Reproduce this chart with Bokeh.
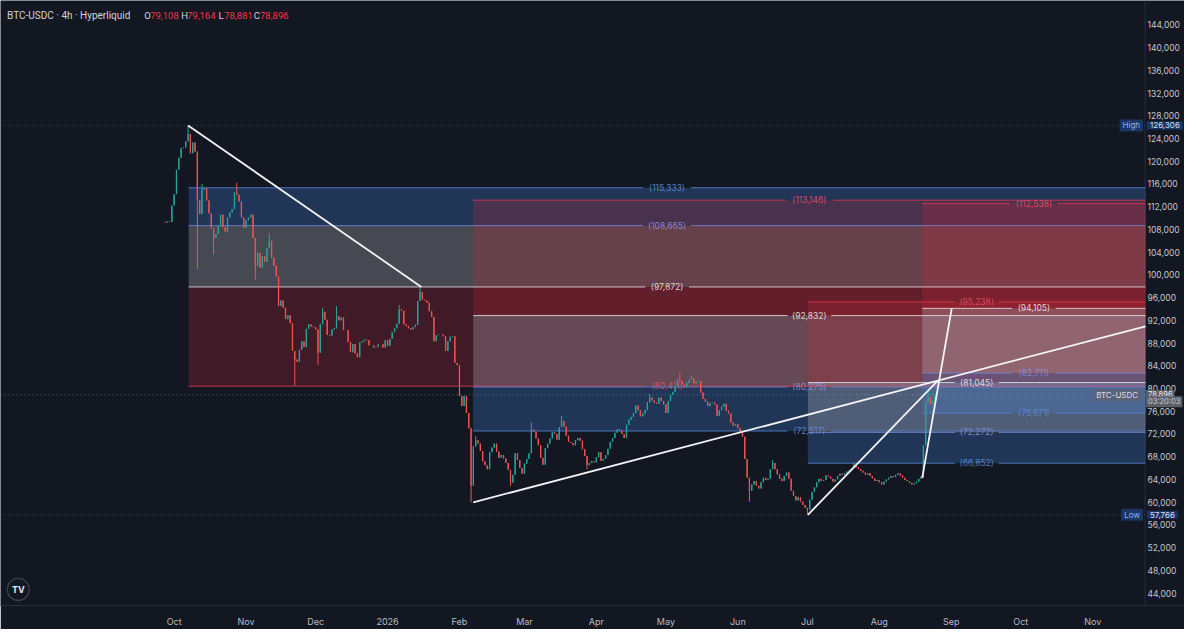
import pandas as pd
from bokeh.plotting import figure
from bokeh.models import (Range1d, FixedTicker, NumeralTickFormatter,
                          CustomJSTickFormatter, Label, Span)
from bokeh.embed import file_html
from bokeh.resources import INLINE
from bokeh.core.properties import value

# ============================ DATA ============================
title_text = "BTC-USDC · 4h · Hyperliquid"
ohlc_keys = ["O", "H", "L", "C"]
ohlc_vals = ["79,108", "79,164", "78,881", "78,896"]

# daily closes in thousands of USD
first_open_k = 109.3
closes_sep25 = [109.2, 109.4, 109.3, 112.2]
closes_oct25 = [114.2, 118.5, 120.6, 122.3, 122.4, 123.5, 124.8, 121.4, 123.3, 121.7,
                113.2, 110.7, 115.0, 115.3, 113.1, 110.8, 108.2, 106.5, 107.2, 108.6,
                110.6, 108.4, 107.6, 110.1, 111.0, 111.6, 114.5, 114.1, 112.9, 110.1, 108.3]
closes_nov25 = [109.6, 110.1, 110.6, 106.5, 101.6, 103.9, 101.3, 103.3, 102.3, 104.7,
                106.0, 103.0, 101.6, 99.7, 94.5, 95.5, 94.2, 92.2, 92.9, 91.5,
                86.6, 85.1, 84.7, 86.8, 88.3, 87.3, 90.5, 91.3, 90.9, 90.8]
closes_dec25 = [90.4, 86.3, 91.3, 93.5, 92.1, 89.4, 89.3, 90.4, 90.6, 92.7,
                92.0, 92.5, 90.3, 90.3, 88.2, 86.4, 87.8, 86.2, 85.5, 88.1,
                88.3, 88.6, 88.5, 87.6, 87.6, 87.2, 87.3, 87.8, 87.8, 87.2, 88.5]
closes_jan26 = [87.5, 88.7, 89.9, 90.6, 91.4, 93.9, 93.7, 91.3, 91.0, 90.6,
                90.4, 90.8, 91.2, 95.4, 97.0, 95.6, 95.5, 95.1, 93.6, 92.6,
                88.3, 89.4, 89.5, 89.5, 89.2, 86.6, 88.3, 89.1, 89.2, 84.5, 84.1]
closes_feb26 = [78.7, 76.9, 78.7, 75.7, 73.0, 62.9, 69.8, 70.9, 70.3, 69.0,
                67.2, 66.5, 65.8, 68.8, 69.6, 70.3, 68.9, 67.8, 68.3, 67.7,
                66.9, 65.7, 63.4, 64.8, 68.6, 67.4, 66.0, 65.0]
closes_mar26 = [66.8, 67.6, 68.6, 72.8, 72.4, 71.2, 70.0, 67.8, 66.6, 69.5,
                70.3, 71.2, 72.3, 72.0, 71.0, 73.2, 74.3, 73.3, 71.7, 70.6,
                70.4, 70.0, 70.9, 71.3, 70.8, 69.3, 68.1, 66.5, 66.9, 67.2, 67.0]
closes_apr26 = [67.9, 68.8, 67.3, 67.6, 68.3, 69.4, 70.6, 71.3, 72.2, 72.8,
                72.6, 72.0, 71.3, 73.6, 74.5, 75.0, 75.7, 77.0, 76.2, 75.1,
                75.6, 76.2, 77.6, 78.4, 77.9, 77.5, 77.3, 78.4, 77.8, 77.2]
closes_may26 = [75.7, 77.8, 78.9, 79.4, 80.3, 81.6, 81.3, 80.7, 80.2, 81.0,
                81.5, 81.8, 80.9, 81.2, 81.3, 79.3, 78.2, 77.7, 76.9, 77.4,
                77.5, 77.2, 75.2, 76.2, 76.8, 77.3, 76.1, 75.6, 74.0, 73.4, 73.7]
closes_jun26 = [73.0, 72.4, 71.5, 67.6, 64.3, 62.0, 63.1, 63.7, 62.9, 62.4,
                63.5, 64.3, 63.9, 64.1, 65.8, 66.9, 65.8, 64.9, 64.1, 63.7,
                64.6, 65.2, 64.1, 62.0, 61.1, 60.3, 60.9, 60.1, 59.5, 59.0]
closes_jul26 = [58.6, 60.4, 61.8, 62.6, 63.5, 64.1, 63.7, 63.9, 64.7, 64.5,
                64.1, 63.6, 64.0, 64.6, 65.0, 64.8, 65.1, 65.4, 65.6, 66.0,
                66.6, 66.1, 65.8, 65.5, 65.2, 64.8, 65.1, 64.6, 64.2, 63.7, 63.9]
closes_aug26 = [63.5, 63.1, 63.6, 64.0, 64.3, 64.6, 64.4, 64.8, 65.1, 64.7,
                64.3, 63.9, 63.7, 63.4, 63.1, 63.3, 63.6, 64.1, 64.5, 70.0,
                77.6, 78.5, 77.2, 77.9, 78.896]
close_blocks = [("2025-09-27", closes_sep25), ("2025-10-01", closes_oct25),
                ("2025-11-01", closes_nov25), ("2025-12-01", closes_dec25),
                ("2026-01-01", closes_jan26), ("2026-02-01", closes_feb26),
                ("2026-03-01", closes_mar26), ("2026-04-01", closes_apr26),
                ("2026-05-01", closes_may26), ("2026-06-01", closes_jun26),
                ("2026-07-01", closes_jul26), ("2026-08-01", closes_aug26)]

# notable wick extremes (thousands USD)
wick_high_k = {"2025-10-07": 126.306, "2025-10-13": 116.0, "2025-10-28": 116.2,
               "2025-11-11": 107.3, "2025-12-04": 94.2, "2025-12-10": 94.5,
               "2026-01-06": 94.7, "2026-01-15": 97.9, "2026-02-08": 71.6,
               "2026-03-04": 74.0, "2026-03-17": 75.2, "2026-04-24": 79.0,
               "2026-05-07": 82.7, "2026-05-12": 82.3, "2026-06-16": 67.4,
               "2026-07-21": 67.0, "2026-08-22": 79.6, "2026-08-25": 79.164}
wick_low_k = {"2025-10-11": 101.1, "2025-10-18": 103.6, "2025-11-05": 99.1,
              "2025-11-22": 80.5, "2025-12-02": 84.2, "2026-02-06": 59.966,
              "2026-02-23": 62.8, "2026-03-28": 65.8, "2026-06-06": 60.1,
              "2026-07-01": 57.766, "2026-08-20": 64.282}

price_ticks = list(range(44000, 144001, 4000))
month_dates = ["2025-10-01", "2025-11-01", "2025-12-01", "2026-01-01", "2026-02-01",
               "2026-03-01", "2026-04-01", "2026-05-01", "2026-06-01", "2026-07-01",
               "2026-08-01", "2026-09-01", "2026-10-01", "2026-11-01"]
month_labels = ["Oct", "Nov", "Dec", "2026", "Feb", "Mar", "Apr", "May", "Jun",
                "Jul", "Aug", "Sep", "Oct", "Nov"]

# four fib boxes: levels ordered [blue, blue, white, red]
fib_start = ["2025-10-07 06:00", "2026-02-06 22:00", "2026-07-01 05:00", "2026-08-19 12:00"]
fib_end = ["2026-11-23 18:00", "2026-11-23 18:00", "2026-11-23 18:00", "2026-11-23 18:00"]
fib_a = [115333, 108665, 97872, 80411]
fib_b = [72517, 80275, 92832, 113146]
fib_c = [66852, 72272, 81045, 95238]
fib_d = [75671, 82711, 94105, 112538]

# white trend lines
trend_x0 = ["2025-10-07 00:00", "2026-02-06 22:00", "2026-07-01 05:00", "2026-08-19 12:00"]
trend_y0 = [126306, 59966, 57766, 64282]
trend_x1 = ["2026-01-15 14:00", "2026-11-23 18:00", "2026-08-26 05:00", "2026-09-01 05:00"]
trend_y1 = [97872, 90950, 81380, 94105]

high_value = 126306
low_value = 57766
last_value = 78896
last_timer = "03:20:03"
series_name = "BTC-USDC"

# ============================ LAYOUT ============================
W, H = 1184, 625                  # figure size (fits the 8px-margin page)
SX, SY = W / 1200.0, H / 641.0    # reference-pixel -> figure-pixel
BASE = pd.Timestamp("2025-10-01")
PX_X0, PX_DAY = 176.0, 2.351      # reference x of BASE, px per day
PX_Y144, PX_USD = 25.0, 0.005827  # reference y of 144,000, px per USD
FW, FH = W, round(621 * SY)
AXIS_X = 1160                     # reference x of the price-scale border


def dx(s):
    return (pd.Timestamp(s) - BASE).total_seconds() / 86400.0


def px_x(rx):
    return (rx - PX_X0) / PX_DAY


def px_y(ry):
    return 144000 - (ry - PX_Y144) / PX_USD


BG = "#131722"
GRID = "#2a2e39"
FONT = "Inter"
UP, DOWN = "#26a69a", "#ef5350"
LINE_COLORS = ["#5282d4", "#6e86d6", "#e4dde0", "#e0344f"]
TEXT_COLORS = ["#5f8edc", "#8a93dc", "#ece6e8", "#e2506a"]
FILLS = [("#427ecf", 0.30), ("#bdbac2", 0.30), ("#c82837", 0.25)]

p = figure(frame_width=FW, frame_height=FH,
           x_range=Range1d(px_x(0), px_x(FW / SX)),
           y_range=Range1d(px_y(FH / SY), px_y(0)),
           y_axis_location="right", output_backend="svg", toolbar_location=None,
           background_fill_color=BG, border_fill_color=BG, outline_line_color=None,
           min_border_left=0, min_border_top=0, min_border_right=0,
           min_border_bottom=H - FH)
p.grid.visible = False

# price axis: labels drawn over the right strip of the frame
ya = p.yaxis[0]
ya.ticker = FixedTicker(ticks=price_ticks)
ya.formatter = NumeralTickFormatter(format="0,0")
ya.major_label_text_font = FONT
ya.major_label_text_font_size = "8.5px"
ya.major_label_text_color = "#c4c7ce"
ya.major_tick_line_color = None
ya.minor_tick_line_color = None
ya.major_tick_out = 0
ya.major_tick_in = 0
ya.minor_tick_out = 0
ya.minor_tick_in = 0
ya.axis_line_color = None
ya.major_label_standoff = round(1163 * SX) - W

xa = p.xaxis[0]
tick_pos = [dx(d) for d in month_dates]
xa.ticker = FixedTicker(ticks=tick_pos)
xa.formatter = CustomJSTickFormatter(args=dict(pos=tick_pos, labs=month_labels),
                                     code="const i = pos.indexOf(tick); return i >= 0 ? labs[i] : '';")
xa.major_label_text_font = FONT
xa.major_label_text_font_size = "9px"
xa.major_label_text_color = "#b8bbc3"
xa.major_tick_line_color = None
xa.minor_tick_line_color = None
xa.axis_line_color = GRID
xa.major_label_standoff = 4

# price-scale border
border = Span(location=px_x(AXIS_X), dimension="height", line_color=GRID, line_width=1)
border.level = "underlay"
p.add_layout(border)

# dotted reference lines
for lvl, col in [(high_value, "#4a4f5c"), (low_value, "#4a4f5c"), (last_value, "#6b6f7b")]:
    p.segment(x0=[px_x(0)], y0=[lvl], x1=[px_x(AXIS_X)], y1=[lvl], line_color=col,
              line_dash="1 3", line_width=1)

# fib boxes
fibs = [fib_a, fib_b, fib_c, fib_d]
for levels, s, e in zip(fibs, fib_start, fib_end):
    x0, x1 = dx(s), dx(e)
    for k, (fc, fa) in enumerate(FILLS):
        lo, hi = sorted([levels[k], levels[k + 1]])
        p.quad(left=x0, right=x1, bottom=lo, top=hi, fill_color=fc, fill_alpha=fa, line_color=None)

for levels, s, e in zip(fibs, fib_start, fib_end):
    x0, x1 = dx(s), dx(e)
    mid = (x0 + x1) / 2
    for k, lvl in enumerate(levels):
        txt = "({:,})".format(lvl)
        half = (len(txt) * 4.3 / 2 + 5) / PX_DAY
        p.segment(x0=[x0, mid + half], y0=[lvl, lvl], x1=[mid - half, x1], y1=[lvl, lvl],
                  line_color=LINE_COLORS[k], line_width=1, line_alpha=0.85)
        p.text(x=[mid], y=[lvl], text=[txt], text_color=TEXT_COLORS[k], text_alpha=0.9,
               text_align="center", text_baseline="middle",
               text_font=value(FONT), text_font_size="8.5px")

# candles
cx, o_l, c_l, h_l, l_l = [], [], [], [], []
prev = first_open_k * 1000
for start, vals in close_blocks:
    for i, c in enumerate(vals):
        d = pd.Timestamp(start) + pd.Timedelta(days=i)
        key = d.strftime("%Y-%m-%d")
        c = c * 1000
        o = prev
        h = max(o, c, wick_high_k.get(key, 0) * 1000)
        lw = min(o, c, wick_low_k.get(key, 1e6) * 1000)
        cx.append(dx(d)); o_l.append(o); c_l.append(c); h_l.append(h); l_l.append(lw)
        prev = c
cols = [UP if c >= o else DOWN for o, c in zip(o_l, c_l)]
p.segment(x0=cx, y0=l_l, x1=cx, y1=h_l, line_color=cols, line_width=1)
p.vbar(x=cx, width=0.55, top=[max(a, b) for a, b in zip(o_l, c_l)],
       bottom=[min(a, b) for a, b in zip(o_l, c_l)], fill_color=cols, line_color=None)

# trend lines
p.segment(x0=[dx(s) for s in trend_x0], y0=trend_y0, x1=[dx(s) for s in trend_x1], y1=trend_y1,
          line_color="#f4f4f6", line_width=1.8)

# header
hy = px_y(15.7)
p.text(x=[px_x(6.7)], y=[hy], text=[title_text], text_color="#d1d4dc", text_baseline="middle",
       text_font=value("Roboto"), text_font_size="10px")
key_px = [145.7, 183.3, 221.0, 256.7]
val_px = [151.7, 189.0, 226.7, 263.0]
p.text(x=[px_x(v) for v in key_px], y=[hy] * 4, text=ohlc_keys, text_color="#d1d4dc",
       text_baseline="middle", text_font=value("Roboto"), text_font_size="9.5px")
p.text(x=[px_x(v) for v in val_px], y=[hy] * 4, text=ohlc_vals, text_color="#f23645",
       text_baseline="middle", text_font=value("Roboto"), text_font_size="9.5px")

# TradingView logo
p.scatter(x=[px_x(18)], y=[px_y(604)], size=22, marker="circle", fill_color=BG,
          line_color="#3c404c", line_width=1.2)
p.text(x=[px_x(18)], y=[px_y(604)], text=["TV"], text_color="#e8e8ea", text_align="center",
       text_baseline="middle", text_font=value(FONT), text_font_size="9px", text_font_style="bold")


# price tags on the price scale
def tag(rx, yv, txt, color, bg, align, size="8px", alpha=1.0, pad=(3, 1)):
    p.add_layout(Label(x=px_x(rx), y=yv, text=txt, text_color=color, text_align=align,
                       text_baseline="middle", text_font=FONT, text_font_size=size,
                       background_fill_color=bg, background_fill_alpha=alpha, padding=pad))


tag(1158, high_value, "High", "#8fb2f5", "#1b3565", "right")
tag(1162, high_value, "{:,}".format(high_value), "#d0defc", "#1b3565", "left")
tag(1158, low_value, "Low", "#8fb2f5", "#1b3565", "right")
tag(1162, low_value, "{:,}".format(low_value), "#d0defc", "#1b3565", "left")
tag(1156, px_y(404.5), series_name, "#dcdee3", "#5f6370", "right", alpha=0.7)
tag(1161, px_y(403.6), "{:,}".format(last_value), "#eceef2", "#5d6069", "left",
    size="7.5px", pad=(2, 1))
tag(1161, px_y(411.6), last_timer, "#c9ccd3", "#5d6069", "left", size="7.5px", pad=(2, 1))

open("out.html", "w").write(file_html(p, INLINE))
